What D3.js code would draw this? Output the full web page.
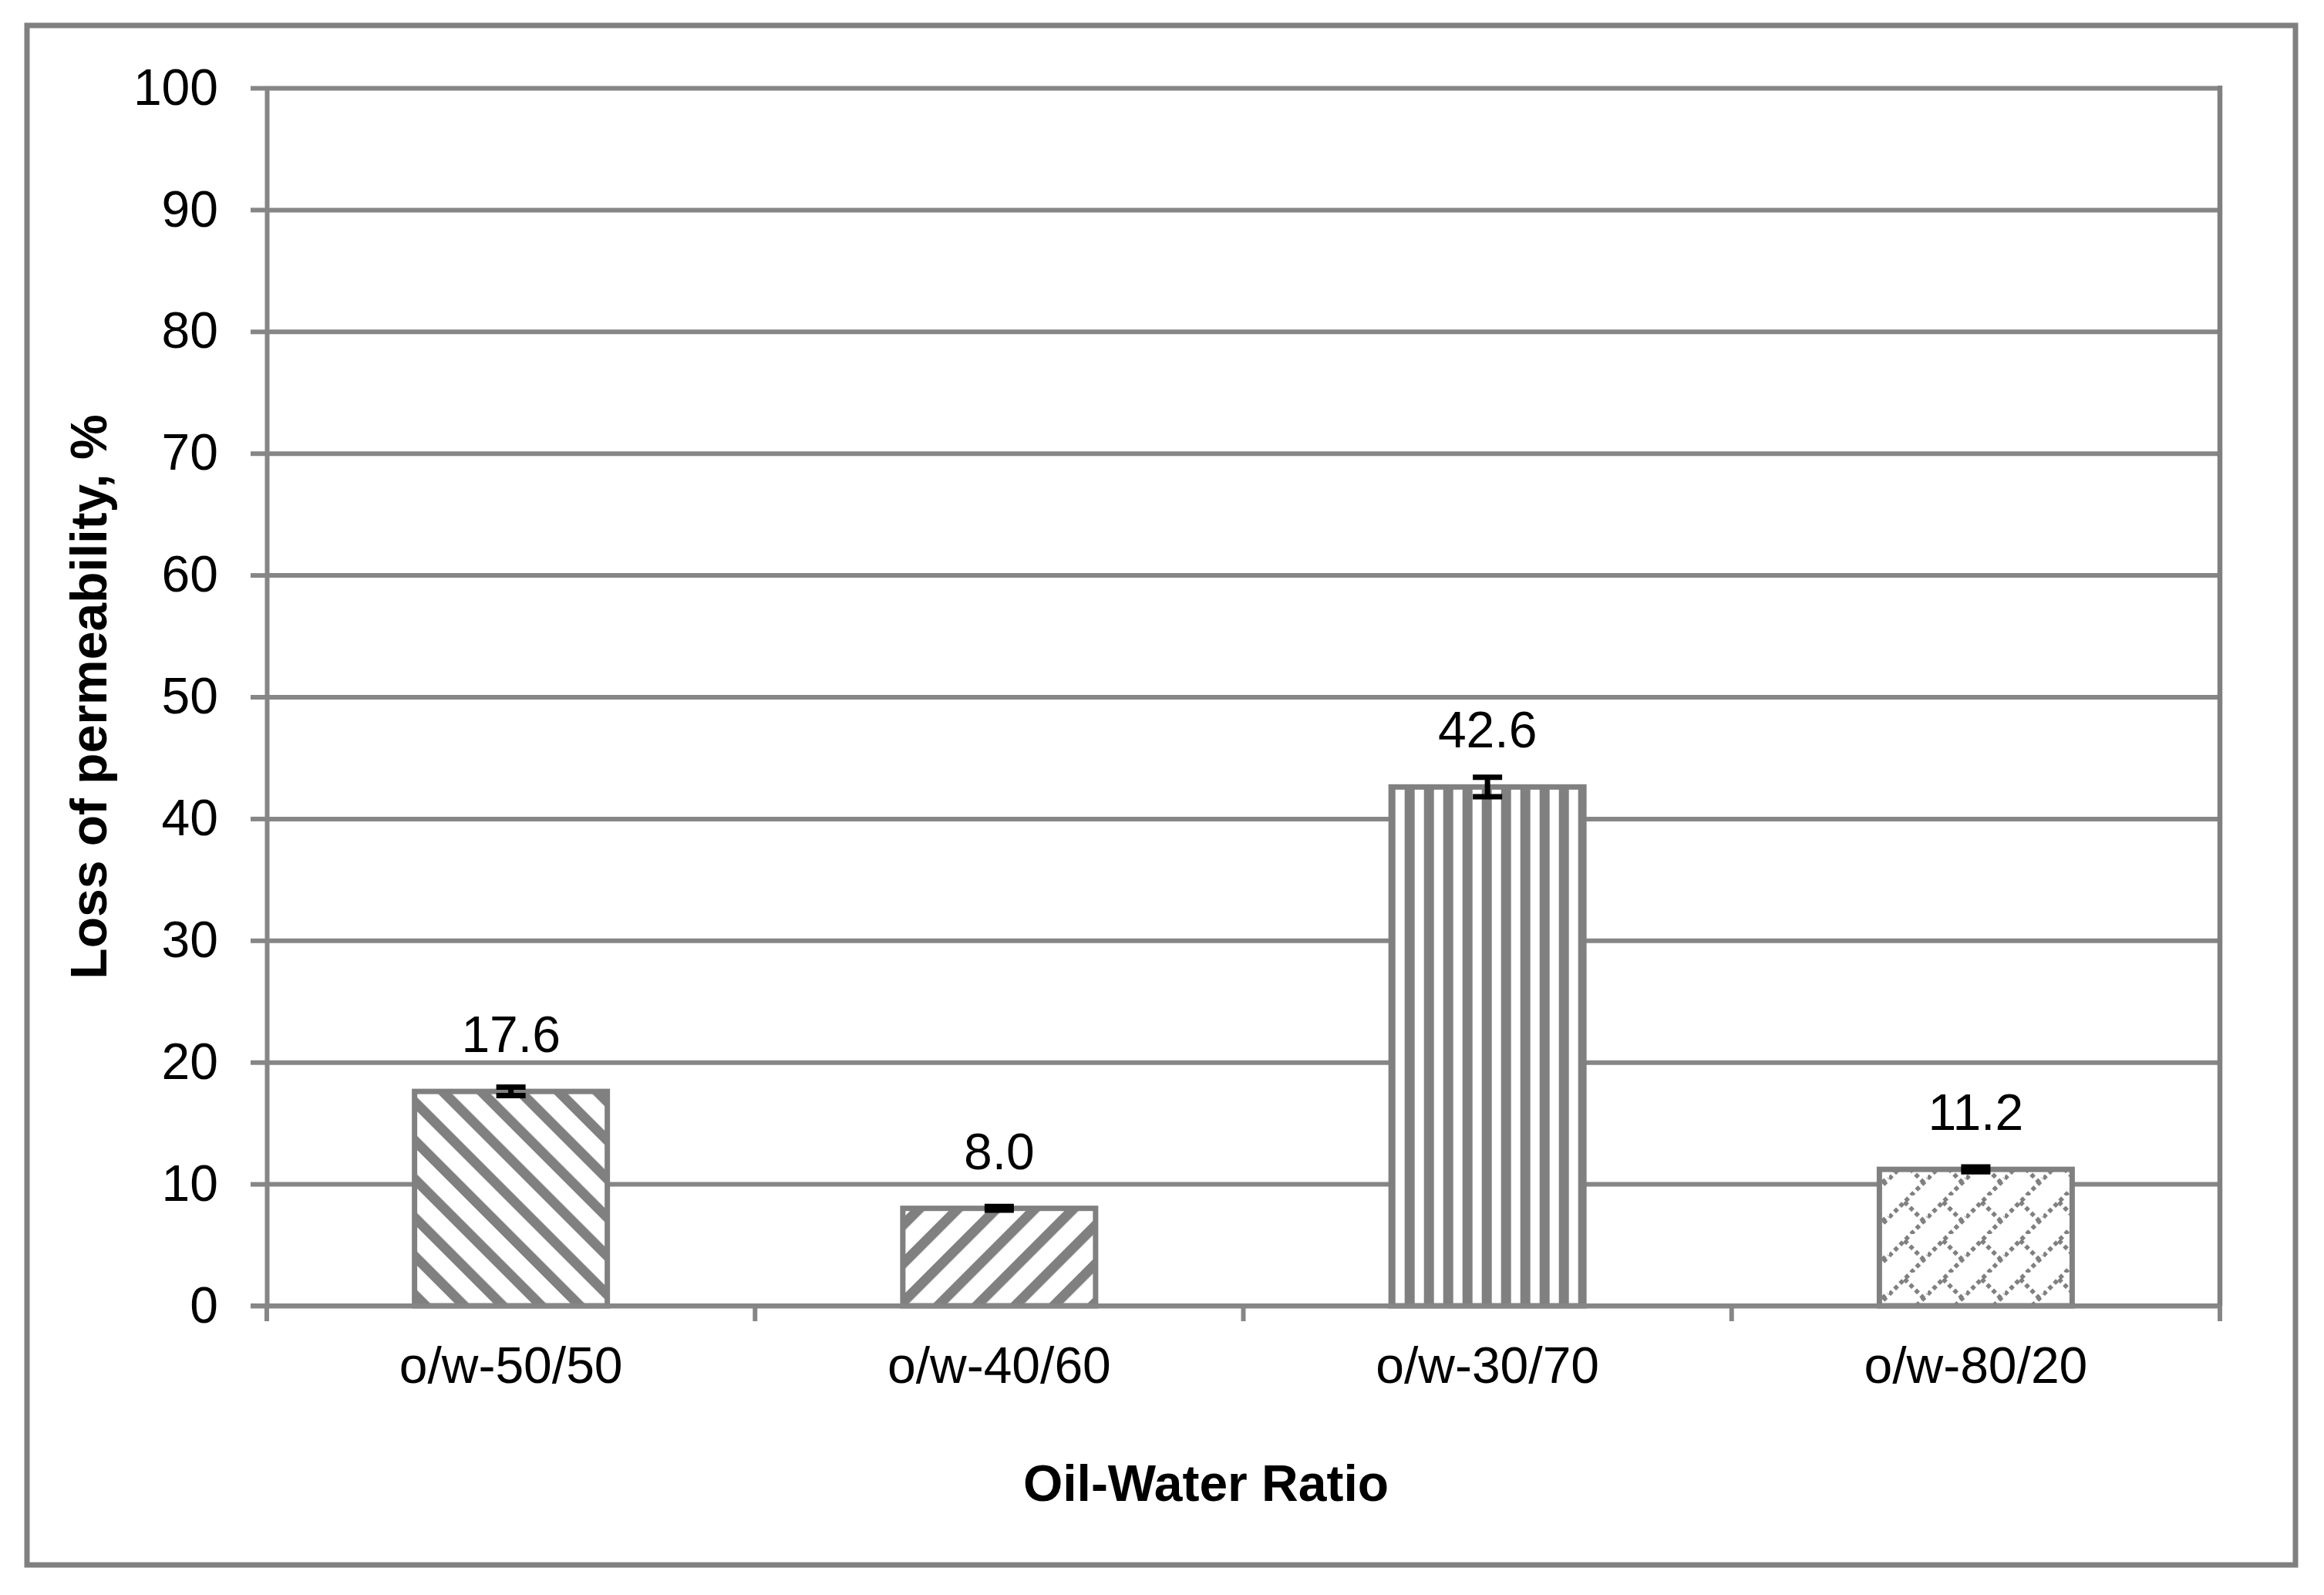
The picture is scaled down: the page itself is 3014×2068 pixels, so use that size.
<!DOCTYPE html>
<html>
<head>
<meta charset="utf-8">
<script src="https://cdn.jsdelivr.net/npm/d3@7"></script>
<style>
  html, body { margin: 0; padding: 0; background: #ffffff; }
  svg { display: block; }
  text { font-family: "Liberation Sans", Arial, sans-serif; fill: #000; }
</style>
</head>
<body>
<svg id="chart" width="3014" height="2068"></svg>
<script>
// ---- data ----
const categories = ["o/w-50/50", "o/w-40/60", "o/w-30/70", "o/w-80/20"];
const values = [17.6, 8.0, 42.6, 11.2];
const errors = [0.35, 0.15, 0.8, 0.2];
const yTicks = [0, 10, 20, 30, 40, 50, 60, 70, 80, 90, 100];
const xTitle = "Oil-Water Ratio";
const yTitle = "Loss of permeability, %";

// ---- layout ----
const W = 3014, H = 2068;
const plot = { left: 346, right: 2879, top: 114, bottom: 1693 };
const gray = "#808080", gridGray = "#868686";

const svg = d3.select("#chart");
svg.append("rect").attr("width", W).attr("height", H).attr("fill", "#fff");

// ---- patterns ----
const defs = svg.append("defs");
function stripePattern(id, angle) {
  const p = defs.append("pattern").attr("id", id)
    .attr("patternUnits", "userSpaceOnUse")
    .attr("width", 35.36).attr("height", 20)
    .attr("patternTransform", `rotate(${angle})`);
  p.append("rect").attr("width", 35.36).attr("height", 20).attr("fill", "#fff");
  p.append("rect").attr("x", 0).attr("width", 13).attr("height", 20).attr("fill", gray);
}
stripePattern("pDown", -45);
stripePattern("pUp", 45);
{
  const p = defs.append("pattern").attr("id", "pVert")
    .attr("patternUnits", "userSpaceOnUse")
    .attr("x", 21.7).attr("width", 25).attr("height", 20);
  p.append("rect").attr("width", 25).attr("height", 20).attr("fill", "#fff");
  p.append("rect").attr("width", 13).attr("height", 20).attr("fill", gray);
}
{
  const p = defs.append("pattern").attr("id", "pLattice")
    .attr("patternUnits", "userSpaceOnUse")
    .attr("width", 50).attr("height", 50);
  p.append("rect").attr("width", 50).attr("height", 50).attr("fill", "#fff");
  const g = p.append("g").attr("stroke", gray).attr("stroke-width", 5.5)
    .attr("stroke-dasharray", "5.5 4.5").attr("fill", "none");
  g.append("path").attr("d", "M0,28.3 L28.3,0");
  g.append("path").attr("d", "M28.3,50 L50,28.3");
  g.append("path").attr("d", "M20,8.3 L45,33.3");
}
const patternIds = ["pDown", "pUp", "pVert", "pLattice"];

// ---- scales ----
const p = 0.6052;
const x = d3.scaleBand().domain(categories)
  .range([plot.left, plot.right]).paddingInner(p).paddingOuter(p / 2);
const y = d3.scaleLinear().domain([0, 100]).range([plot.bottom, plot.top]);

// ---- outer border ----
svg.append("rect").attr("x", 35).attr("y", 33).attr("width", 2942).attr("height", 1996)
  .attr("fill", "none").attr("stroke", gray).attr("stroke-width", 7);

// ---- gridlines ----
const grid = svg.append("g").attr("transform", `translate(${plot.left},0)`)
  .call(d3.axisLeft(y).tickValues(yTicks).tickSize(-(plot.right - plot.left)).tickFormat(""));
grid.select(".domain").remove();
grid.selectAll(".tick line").attr("stroke", gridGray).attr("stroke-width", 6);

// plot area right border
svg.append("line").attr("x1", plot.right).attr("x2", plot.right)
  .attr("y1", plot.top - 3).attr("y2", plot.bottom)
  .attr("stroke", gray).attr("stroke-width", 6.5);

// ---- bars ----
const data = categories.map((c, i) => ({ c, v: values[i], e: errors[i], pat: patternIds[i] }));
svg.append("g").selectAll("rect").data(data).join("rect")
  .attr("x", d => x(d.c))
  .attr("y", d => y(d.v))
  .attr("width", x.bandwidth())
  .attr("height", d => y(0) - y(d.v))
  .attr("fill", d => `url(#${d.pat})`)
  .attr("stroke", gray).attr("stroke-width", 7);

// ---- y axis ----
const yAxis = svg.append("g").attr("transform", `translate(${plot.left},0)`)
  .call(d3.axisLeft(y).tickValues(yTicks).tickSize(21).tickPadding(42).tickSizeOuter(0));
yAxis.select(".domain").attr("stroke", gridGray).attr("stroke-width", 6);
yAxis.selectAll(".tick line").attr("stroke", gridGray).attr("stroke-width", 6);
yAxis.selectAll(".tick text").attr("font-size", 66)
  .style("font-family", '"Liberation Sans", Arial, sans-serif').attr("fill", "#000");

// ---- x axis ----
const xAxis = svg.append("g").attr("transform", `translate(0,${plot.bottom})`)
  .call(d3.axisBottom(x).tickSize(0).tickPadding(53));
xAxis.select(".domain").attr("stroke", gridGray).attr("stroke-width", 6)
  .attr("d", `M${plot.left - 21},0H${plot.right}`);
xAxis.selectAll(".tick text").attr("font-size", 66)
  .style("font-family", '"Liberation Sans", Arial, sans-serif').attr("fill", "#000");
// boundary tick marks
const bounds = categories.map(c => x(c) + x.bandwidth() / 2 - x.step() / 2)
  .concat([x(categories[categories.length - 1]) + x.bandwidth() / 2 + x.step() / 2]);
svg.append("g").selectAll("line").data(bounds).join("line")
  .attr("x1", d => d).attr("x2", d => d)
  .attr("y1", plot.bottom).attr("y2", plot.bottom + 20)
  .attr("stroke", gridGray).attr("stroke-width", 6);

// ---- error bars ----
const eb = svg.append("g").attr("stroke", "#000").attr("stroke-width", 7);
data.forEach(d => {
  const cx = x(d.c) + x.bandwidth() / 2;
  const y1 = y(d.v + d.e), y2 = y(d.v - d.e);
  eb.append("line").attr("x1", cx).attr("x2", cx).attr("y1", y1).attr("y2", y2);
  eb.append("line").attr("x1", cx - 19).attr("x2", cx + 19).attr("y1", y1).attr("y2", y1);
  eb.append("line").attr("x1", cx - 19).attr("x2", cx + 19).attr("y1", y2).attr("y2", y2);
});

// ---- value labels ----
const fmt = d3.format(".1f");
svg.append("g").selectAll("text").data(data).join("text")
  .attr("x", d => x(d.c) + x.bandwidth() / 2)
  .attr("y", d => y(d.v) - 51)
  .attr("text-anchor", "middle").attr("font-size", 66)
  .text(d => fmt(d.v));

// ---- titles ----
svg.append("text").attr("x", 1564).attr("y", 1946)
  .attr("text-anchor", "middle").attr("font-size", 66).attr("font-weight", "bold")
  .text(xTitle);
svg.append("text")
  .attr("transform", `translate(138,${(plot.top + plot.bottom) / 2}) rotate(-90)`)
  .attr("text-anchor", "middle").attr("font-size", 66).attr("font-weight", "bold")
  .text(yTitle);
</script>
</body>
</html>
